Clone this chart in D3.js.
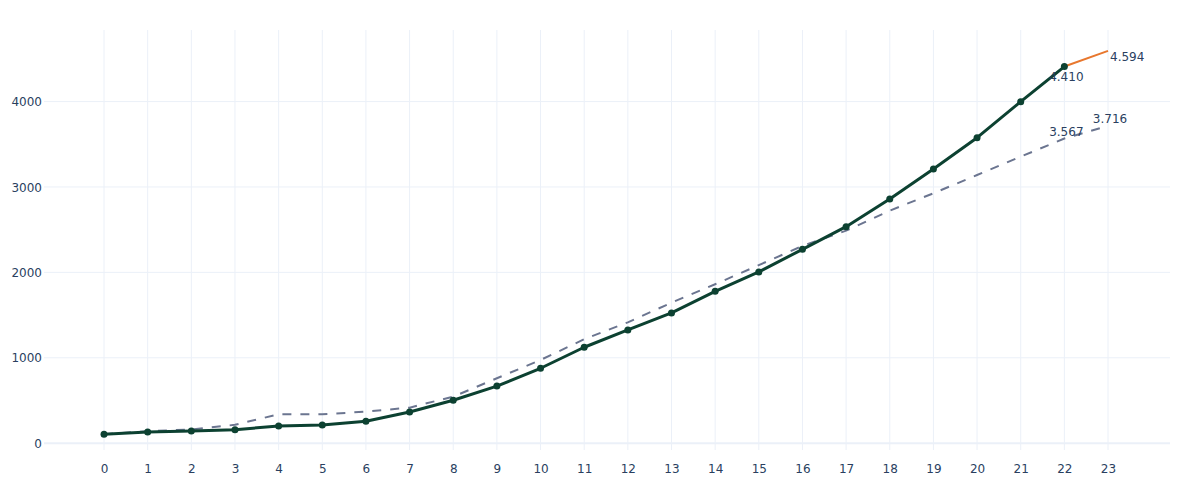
<!DOCTYPE html>
<html>
<head>
<meta charset="utf-8">
<script src="https://cdn.jsdelivr.net/npm/d3@7"></script>
<style>
  html, body { margin: 0; padding: 0; background: #fff; }
  svg { display: block; font-family: "DejaVu Sans", Verdana, sans-serif; }
</style>
</head>
<body>
<div id="chart"></div>
<script>
// ---- data ----
const xCategories = [0,1,2,3,4,5,6,7,8,9,10,11,12,13,14,15,16,17,18,19,20,21,22,23];
const actualValues = [104,131,143,158,201,213,256,365,502,668,877,1123,1326,1525,1778,2005,2270,2535,2859,3211,3577,3999,4410];
const trendValues = [105,140,160,215,338,338,369,416,545,760,974,1217,1415,1645,1861,2085,2309,2488,2723,2926,3140,3355,3567,3716];
const forecastX = [22,23];
const forecastValues = [4410,4594];
const yTicks = [0,1000,2000,3000,4000];
const labelPoints = [
  {series: "actual", x: 22, value: 4410, text: "4.410", pos: "below"},
  {series: "forecast", x: 23, value: 4594, text: "4.594", pos: "right"},
  {series: "trend", x: 22, value: 3567, text: "3.567", pos: "above"},
  {series: "trend", x: 23, value: 3716, text: "3.716", pos: "above"}
];

// ---- layout ----
const W = 1200, H = 500;
const plot = {left: 44, right: 1170, top: 30, bottom: 450};

const svg = d3.select("#chart").append("svg").attr("width", W).attr("height", H);

const x = d3.scaleLinear().domain([-1.375, 24.42]).range([plot.left, plot.right]);
const y = d3.scaleLinear().domain([-80, 4838]).range([plot.bottom, plot.top]);

const gridColor = "#ebf0f8";
const textColor = "#2a3f5f";

// vertical grid
svg.append("g").selectAll("line").data(xCategories).join("line")
  .attr("x1", d => x(d)).attr("x2", d => x(d))
  .attr("y1", plot.top).attr("y2", plot.bottom)
  .attr("stroke", gridColor).attr("stroke-width", 1);

// horizontal grid
svg.append("g").selectAll("line").data(yTicks).join("line")
  .attr("x1", plot.left).attr("x2", plot.right)
  .attr("y1", d => y(d)).attr("y2", d => y(d))
  .attr("stroke", gridColor).attr("stroke-width", d => d === 0 ? 2 : 1);

// y axis labels
const yAxis = d3.axisLeft(y).tickValues(yTicks).tickSize(0).tickPadding(2).tickFormat(d3.format("d"));
const gy = svg.append("g").attr("transform", `translate(${plot.left},0)`).call(yAxis);
gy.select(".domain").remove();
gy.selectAll("text").attr("fill", textColor).style("font-size", "12px").style("font-family", "'DejaVu Sans', sans-serif").attr("dy", "0.35em");

// x axis labels
const xAxis = d3.axisBottom(x).tickValues(xCategories).tickSize(0).tickPadding(14).tickFormat(d3.format("d"));
const gx = svg.append("g").attr("transform", `translate(0,${plot.bottom})`).call(xAxis);
gx.select(".domain").remove();
gx.selectAll("text").attr("fill", textColor).style("font-size", "12px").style("font-family", "'DejaVu Sans', sans-serif");

// trend dashed line
const line = d3.line().x(d => x(d[0])).y(d => y(d[1]));
svg.append("path")
  .datum(xCategories.map((c, i) => [c, trendValues[i]]))
  .attr("d", line)
  .attr("fill", "none").attr("stroke", "#6b7590").attr("stroke-width", 2)
  .attr("stroke-dasharray", "9,9");

// forecast orange line
svg.append("path")
  .datum(forecastX.map((c, i) => [c, forecastValues[i]]))
  .attr("d", line)
  .attr("fill", "none").attr("stroke", "#e8772e").attr("stroke-width", 2);

// actual solid line
const actualData = actualValues.map((v, i) => [xCategories[i], v]);
svg.append("path")
  .datum(actualData)
  .attr("d", line)
  .attr("fill", "none").attr("stroke", "#0c4131").attr("stroke-width", 3)
  .attr("stroke-linejoin", "round");
svg.append("g").selectAll("circle").data(actualData).join("circle")
  .attr("cx", d => x(d[0])).attr("cy", d => y(d[1])).attr("r", 3.5)
  .attr("fill", "#0c4131");

// labels
svg.append("g").selectAll("text").data(labelPoints).join("text")
  .attr("x", d => x(d.x) + 2)
  .attr("y", d => y(d.value) + (d.pos === "below" ? 14 : d.pos === "right" ? 10 : -3))
  .attr("text-anchor", d => d.pos === "right" ? "start" : "middle")
  .attr("fill", textColor)
  .style("font-size", "12px")
  .text(d => d.text);
</script>
</body>
</html>
